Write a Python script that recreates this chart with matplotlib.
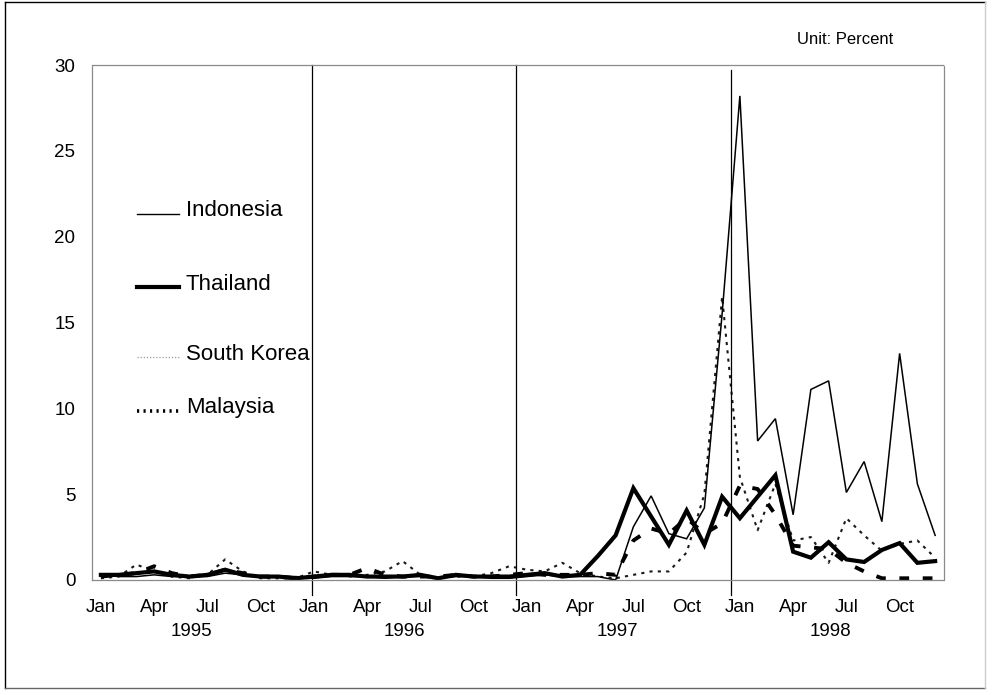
import matplotlib
matplotlib.use("Agg")
import matplotlib.pyplot as plt
from matplotlib.lines import Line2D

plt.rcParams['font.family'] = ['Liberation Sans Narrow', 'Liberation Sans', 'DejaVu Sans']

# ---------------- data ----------------
months = ["Jan", "Feb", "Mar", "Apr", "May", "Jun", "Jul", "Aug", "Sep", "Oct", "Nov", "Dec"]
years = ["1995", "1996", "1997", "1998"]
tick_months = ["Jan", "Apr", "Jul", "Oct"]

indonesia = [0.3, 0.2, 0.2, 0.3, 0.2, 0.2, 0.2, 0.4, 0.3, 0.2, 0.2, 0.2,
             0.1, 0.2, 0.2, 0.2, 0.1, 0.2, 0.2, 0.1, 0.2, 0.2, 0.1, 0.1,
             0.2, 0.3, 0.2, 0.2, 0.2, 0.0, 3.1, 4.9, 2.7, 2.4, 4.2, 15.5,
             28.2, 8.1, 9.4, 3.8, 11.1, 11.6, 5.1, 6.9, 3.4, 13.2, 5.6, 2.6]
thailand = [0.3, 0.3, 0.4, 0.5, 0.3, 0.2, 0.3, 0.6, 0.3, 0.2, 0.2, 0.1,
            0.2, 0.3, 0.3, 0.2, 0.2, 0.2, 0.3, 0.1, 0.3, 0.2, 0.2, 0.2,
            0.3, 0.4, 0.2, 0.3, 1.4, 2.6, 5.35, 3.7, 2.05, 4.05, 2.05, 4.85,
            3.6, 4.85, 6.1, 1.65, 1.3, 2.2, 1.2, 1.05, 1.75, 2.15, 1.0, 1.1]
south_korea = [0.1, 0.2, 0.9, 0.5, 0.2, 0.1, 0.3, 1.2, 0.5, 0.1, 0.1, 0.1,
               0.5, 0.3, 0.2, 0.3, 0.5, 1.1, 0.3, 0.1, 0.2, 0.2, 0.4, 0.8,
               0.6, 0.5, 1.0, 0.4, 0.2, 0.1, 0.3, 0.5, 0.5, 1.6, 5.0, 16.5,
               6.0, 2.9, 5.6, 2.3, 2.5, 1.0, 3.6, 2.6, 1.7, 2.1, 2.3, 1.3]
malaysia = [0.2, 0.3, 0.4, 0.8, 0.4, 0.2, 0.3, 0.6, 0.4, 0.2, 0.2, 0.1,
            0.2, 0.3, 0.3, 0.7, 0.3, 0.2, 0.2, 0.2, 0.3, 0.2, 0.2, 0.3,
            0.4, 0.3, 0.3, 0.3, 0.4, 0.3, 2.3, 3.0, 2.7, 3.6, 2.7, 3.3,
            5.5, 5.3, 3.8, 2.0, 1.9, 1.8, 1.0, 0.5, 0.1, 0.1, 0.1, 0.1]

series_names = ["Indonesia", "Thailand", "South Korea", "Malaysia"]
y_ticks = [0, 5, 10, 15, 20, 25, 30]
divider_pos = [11.9, 23.4, 35.5]   # year divider lines (category units)
unit_label = "Unit: Percent"

# ---------------- figure ----------------
W, H = 995, 695
fig = plt.figure(figsize=(W / 100, H / 100), dpi=100)
ax = fig.add_axes([92 / W, 1 - 580 / H, (944 - 92) / W, (580 - 65) / H])

x = list(range(len(indonesia)))
styles = {
    "Indonesia": dict(color="black", lw=1.1, ls="-"),
    "Thailand": dict(color="black", lw=3.0, ls="-"),
    "South Korea": dict(color="#1a1a1a", lw=1.5, ls=(0, (1.5, 2.5))),
    "Malaysia": dict(color="black", lw=2.8, ls=(0, (2.5, 3.5))),
}
data = {"Indonesia": indonesia, "Thailand": thailand,
        "South Korea": south_korea, "Malaysia": malaysia}
for name in ["South Korea", "Malaysia", "Indonesia", "Thailand"]:
    ax.plot(x, data[name], solid_joinstyle="miter", **styles[name])

ax.set_xlim(-0.5, len(x) - 0.5)
ax.set_ylim(0, 30)

# year dividers
tops = [30, 30, 29.7]
for p, t in zip(divider_pos, tops):
    ax.plot([p, p], [-0.85, t], color="black", lw=0.9, clip_on=False)

# ticks
tick_pos = [i for i in x if months[i % 12] in tick_months]
ax.set_xticks(tick_pos)
ax.set_xticklabels([months[i % 12] for i in tick_pos], fontsize=13.5)
ax.set_yticks(y_ticks)
ax.set_yticklabels([str(v) for v in y_ticks], fontsize=13.5)
ax.tick_params(axis="x", length=0, pad=14)
ax.tick_params(axis="y", length=0, pad=12)

for k, yr in enumerate(years):
    ax.text(12 * k + 5.1, -3.0, yr, ha="center", va="center", fontsize=13.5,
            transform=ax.transData, clip_on=False)

for s in ax.spines.values():
    s.set_color("#8a8a8a")
    s.set_linewidth(0.9)
    s.set_linestyle((0, (1, 1)))

# manual legend (figure pixel positions)
leg_y = [211, 284, 354, 408]
leg_styles = [
    dict(color="black", lw=1.0, ls="-"),
    dict(color="black", lw=3.0, ls="-"),
    dict(color="#9a9a9a", lw=0.9, ls=(0, (1, 1.5))),
    dict(color="black", lw=2.6, ls=(0, (0.6, 1.2))),
]
for name, yy, st in zip(series_names, leg_y, leg_styles):
    fig.add_artist(Line2D([137 / W, 179 / W], [1 - (yy + 3) / H, 1 - (yy + 3) / H],
                          transform=fig.transFigure, **st))
    fig.text(186 / W, 1 - yy / H, name, ha="left", va="center", fontsize=16)

fig.text(893 / W, 1 - 40 / H, unit_label, ha="right", va="center", fontsize=12)

# figure border
for (x0, y0, x1, y1, c) in [(5, 2, 985, 2, "black"), (5, 2, 5, 688, "black"),
                            (5, 688, 985, 688, "#666666"), (985, 2, 985, 688, "#cccccc")]:
    fig.add_artist(Line2D([x0 / W, x1 / W], [1 - y0 / H, 1 - y1 / H],
                          transform=fig.transFigure, color=c, lw=1.0))

fig.savefig("out.png", dpi=100)
